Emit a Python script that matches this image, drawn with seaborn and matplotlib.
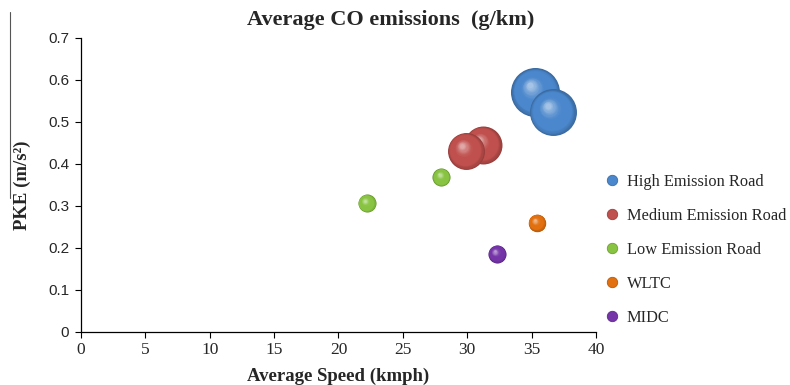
import numpy as np
import pandas as pd
import matplotlib
matplotlib.use("Agg")
import matplotlib.pyplot as plt
from matplotlib.lines import Line2D
from matplotlib.colors import to_rgb
import seaborn as sns

# ---- data -------------------------------------------------------------
categories = ["High Emission Road", "High Emission Road",
              "Medium Emission Road", "Medium Emission Road",
              "Low Emission Road", "Low Emission Road",
              "WLTC", "MIDC"]
avg_speed = [35.3, 36.65, 31.2, 29.9, 28.0, 22.2, 35.4, 32.3]      # kmph
pke = [0.571, 0.523, 0.445, 0.431, 0.369, 0.307, 0.260, 0.186]     # m/s^2
co_emission = [1.20, 1.10, 0.72, 0.68, 0.162, 0.162, 0.152, 0.162]  # g/km (bubble size)

legend_order = ["High Emission Road", "Medium Emission Road",
                "Low Emission Road", "WLTC", "MIDC"]
series_colors = ["#4a87cc", "#c0504d", "#88c441", "#e2700f", "#7535a8"]

x_ticks = [0, 5, 10, 15, 20, 25, 30, 35, 40]
y_ticks = [0, 0.1, 0.2, 0.3, 0.4, 0.5, 0.6, 0.7]
y_tick_labels = ["0", "0.1", "0.2", "0.3", "0.4", "0.5", "0.6", "0.7"]

df = pd.DataFrame({"category": categories, "speed": avg_speed,
                   "pke": pke, "co": co_emission})
palette = dict(zip(legend_order, series_colors))

# ---- styling ----------------------------------------------------------
sns.set_style("white")
SERIF = ["Liberation Serif", "DejaVu Serif"]
SANS = ["Liberation Sans", "DejaVu Sans"]
plt.rcParams["font.family"] = SERIF

MAX_AREA = 1245.0     # marker area (pt^2) for the largest emission value
SIZE_NORM = 1.2

fig = plt.figure(figsize=(7.9, 3.85), dpi=100)
ax = fig.add_axes([0.1025, 0.1377, 0.6519, 0.7636])
ax.set_xlim(0, 40)
ax.set_ylim(0, 0.7)


def mix(c1, c2, t):
    c1, c2 = np.array(to_rgb(c1)), np.array(to_rgb(c2))
    return tuple(np.clip(c1 + (c2 - c1) * t, 0, 1))


def sphere_color(base, t):
    dark = mix(base, "black", 0.22)
    light = mix(base, "white", 0.5)
    if t < 0.18:
        return mix(dark, base, t / 0.18)
    if t < 0.55:
        return base
    return mix(base, light, ((t - 0.55) / 0.45) ** 1.4)


# shaded bubbles: each bubble is a stack of shrinking discs drifting
# toward an upper-left highlight
n_layers = 26
to_disp = ax.transData
to_data = ax.transData.inverted()
for idx, row in df.iterrows():
    base = palette[row["category"]]
    area = MAX_AREA * row["co"] / SIZE_NORM
    r_px = np.sqrt(area) / 2 * fig.dpi / 72
    z = 3 + idx
    sns.scatterplot(x=[row["speed"]], y=[row["pke"]], s=area,
                    color=sphere_color(base, 0), linewidth=0,
                    ax=ax, zorder=z, legend=False)
    cx, cy = to_disp.transform((row["speed"], row["pke"]))
    for i in range(1, n_layers):
        t = i / (n_layers - 1)
        f = 1 - 0.88 * t
        px = cx - 0.22 * r_px * t
        py = cy + 0.28 * r_px * t
        dx, dy = to_data.transform((px, py))
        ax.scatter([dx], [dy], s=area * f ** 2, color=sphere_color(base, t),
                   linewidths=0, zorder=z)

# ---- axes -------------------------------------------------------------
sns.despine(ax=ax)
for side in ("left", "bottom"):
    ax.spines[side].set_color("black")
    ax.spines[side].set_linewidth(0.9)
ax.set_xticks(x_ticks)
ax.set_yticks(y_ticks)
ax.set_yticklabels(y_tick_labels)
ax.tick_params(axis="both", direction="out", length=4.5, width=0.8,
               color="black", bottom=True, left=True)
for lab in ax.get_xticklabels():
    lab.set_fontfamily(SERIF)
    lab.set_fontsize(12.5)
for lab in ax.get_yticklabels():
    lab.set_fontfamily(SANS)
    lab.set_fontsize(11)
ax.tick_params(axis="y", pad=4)
ax.tick_params(axis="x", pad=3)

ax.set_xlabel("Average Speed (kmph)", fontsize=13.5, fontweight="bold",
              labelpad=7)
ax.set_ylabel("PKE (m/s²)", fontsize=13.5, fontweight="bold", labelpad=12)

fig.text(0.495, 0.948, "Average CO emissions  (g/km)", ha="center",
         va="center", fontsize=16, fontweight="bold")

fig.add_artist(Line2D([10 / 790, 10 / 790], [1 - 12 / 385, 1 - 198 / 385],
                      color="#555555", lw=0.8))

# ---- legend -----------------------------------------------------------
handles = [Line2D([0], [0], marker="o", linestyle="none", markersize=7.5,
                  markerfacecolor=palette[c],
                  markeredgecolor=mix(palette[c], "black", 0.2),
                  markeredgewidth=0.6)
           for c in legend_order]
fig.legend(handles, legend_order, loc="center left",
           bbox_to_anchor=(589 / 790, 1 - 250 / 385), frameon=False,
           prop={"family": SERIF, "size": 11.8}, labelspacing=1.1,
           handletextpad=0.4, handlelength=1.0)

fig.savefig("out.png", dpi=100)
